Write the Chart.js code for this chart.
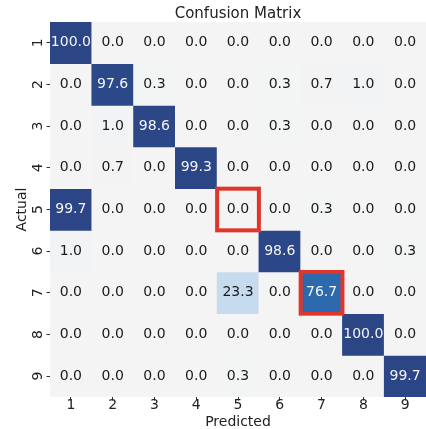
<!DOCTYPE html>
<html>
<head>
  <title>Confusion Matrix</title>
  <script src="https://cdn.jsdelivr.net/npm/chart.js"></script>
  <style>
    body { margin: 0; background: white; }
    #wrap { width: 426px; height: 429px; }
  </style>
</head>
<body>
  <div id="wrap"><canvas id="cm"></canvas></div>

  <script>
    // class labels (same for actual and predicted)
    const classLabels = ['1', '2', '3', '4', '5', '6', '7', '8', '9'];

    // row-normalised percentages, one array per actual class
    const actual1 = [100.0, 0.0, 0.0, 0.0, 0.0, 0.0, 0.0, 0.0, 0.0];
    const actual2 = [0.0, 97.6, 0.3, 0.0, 0.0, 0.3, 0.7, 1.0, 0.0];
    const actual3 = [0.0, 1.0, 98.6, 0.0, 0.0, 0.3, 0.0, 0.0, 0.0];
    const actual4 = [0.0, 0.7, 0.0, 99.3, 0.0, 0.0, 0.0, 0.0, 0.0];
    const actual5 = [99.7, 0.0, 0.0, 0.0, 0.0, 0.0, 0.3, 0.0, 0.0];
    const actual6 = [1.0, 0.0, 0.0, 0.0, 0.0, 98.6, 0.0, 0.0, 0.3];
    const actual7 = [0.0, 0.0, 0.0, 0.0, 23.3, 0.0, 76.7, 0.0, 0.0];
    const actual8 = [0.0, 0.0, 0.0, 0.0, 0.0, 0.0, 0.0, 100.0, 0.0];
    const actual9 = [0.0, 0.0, 0.0, 0.0, 0.3, 0.0, 0.0, 0.0, 99.7];
    const rows = [actual1, actual2, actual3, actual4, actual5, actual6, actual7, actual8, actual9];

    // cells outlined in red: [actual, predicted]
    const highlighted = [[5, 5], [7, 7]];

    // colour ramp stops
    const ramp = [[0, [244, 244, 244]], [23.3, [199, 219, 238]], [76.7, [45, 106, 173]], [100, [43, 69, 133]]];
    function cellColor(v) {
      for (let i = 1; i < ramp.length; i++) {
        if (v <= ramp[i][0]) {
          const [a, ca] = ramp[i - 1], [b, cb] = ramp[i];
          const t = (v - a) / (b - a);
          const c = ca.map((x, k) => Math.round(x + (cb[k] - x) * t));
          return `rgb(${c[0]},${c[1]},${c[2]})`;
        }
      }
      return 'rgb(43,69,133)';
    }

    const font = 'DejaVu Sans';
    Chart.defaults.font.family = font;
    Chart.defaults.color = '#222';

    const datasets = rows.map((row, r) => ({
      label: classLabels[r],
      data: row.map(() => [r + 0.5, r + 1.5]),
      backgroundColor: row.map(cellColor),
      borderWidth: 0,
      barPercentage: 1,
      categoryPercentage: 1,
      grouped: false
    }));

    const bgPlugin = {
      id: 'bg',
      beforeDatasetsDraw(chart) {
        const a = chart.chartArea, ctx = chart.ctx;
        ctx.save();
        ctx.fillStyle = cellColor(0);
        ctx.fillRect(a.left, a.top, a.right - a.left, a.bottom - a.top);
        ctx.restore();
      }
    };

    const textPlugin = {
      id: 'cellText',
      afterDatasetsDraw(chart) {
        const ctx = chart.ctx;
        ctx.save();
        ctx.font = `14px "${font}"`;
        ctx.textAlign = 'center';
        ctx.textBaseline = 'middle';
        rows.forEach((row, r) => {
          const meta = chart.getDatasetMeta(r);
          row.forEach((v, c) => {
            const bar = meta.data[c];
            ctx.fillStyle = v > 50 ? '#f4f4f4' : '#1a1a1a';
            ctx.fillText(v.toFixed(1), bar.x, (bar.y + bar.base) / 2);
          });
        });
        ctx.strokeStyle = '#e0352b';
        ctx.lineWidth = 4;
        highlighted.forEach(([r, c]) => {
          const bar = chart.getDatasetMeta(r - 1).data[c - 1];
          const top = Math.min(bar.y, bar.base);
          ctx.strokeRect(bar.x - bar.width / 2, top, bar.width, Math.abs(bar.base - bar.y));
        });
        ctx.restore();
      }
    };

    new Chart(document.getElementById('cm'), {
      type: 'bar',
      data: { labels: classLabels, datasets: datasets },
      options: {
        responsive: true,
        maintainAspectRatio: false,
        animation: false,
        events: [],
        layout: { padding: 0 },
        plugins: {
          legend: { display: false },
          tooltip: { enabled: false },
          title: {
            display: true,
            text: 'Confusion Matrix',
            fullSize: false,
            font: { size: 15, weight: 'normal', lineHeight: 1 },
            padding: { top: 7, bottom: 0 }
          }
        },
        scales: {
          x: {
            offset: true,
            border: { display: false },
            grid: { drawOnChartArea: false, offset: false, tickLength: 3.5, tickColor: '#333' },
            ticks: { font: { size: 14, lineHeight: 1 }, padding: -2.5, maxRotation: 0 },
            title: { display: true, text: 'Predicted', font: { size: 14, lineHeight: 1 }, padding: { top: 0, bottom: 0 } },
            afterFit(scale) { scale.height = 32; }
          },
          y: {
            type: 'linear',
            min: 0.5,
            max: 9.5,
            reverse: true,
            border: { display: false },
            grid: { drawOnChartArea: false, tickLength: 3.5, tickColor: '#333' },
            afterBuildTicks(scale) { scale.ticks = classLabels.map((_, i) => ({ value: i + 1 })); },
            ticks: {
              font: { size: 14 },
              minRotation: 90,
              maxRotation: 90,
              crossAlign: 'center',
              padding: 4,
              callback: (v) => classLabels[v - 1]
            },
            title: { display: true, text: 'Actual', font: { size: 14 }, padding: { top: 14, bottom: 0 } },
            afterFit(scale) { scale.width = 50; }
          }
        }
      },
      plugins: [bgPlugin, textPlugin]
    });
  </script>
</body>
</html>
